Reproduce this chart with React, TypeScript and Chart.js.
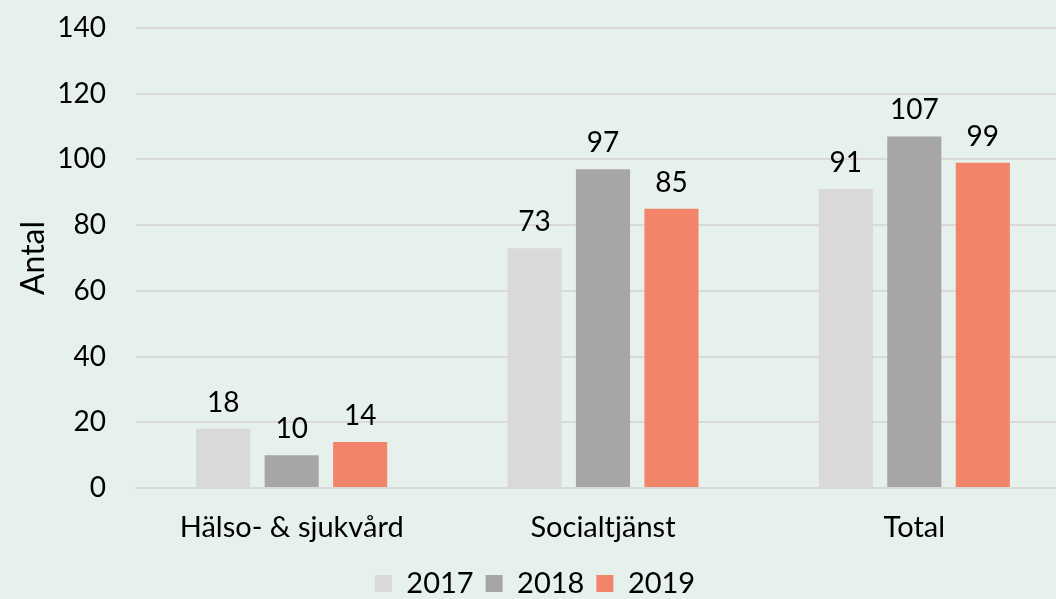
import React, { useEffect, useRef } from "react";
import { Chart, registerables } from "chart.js";

Chart.register(...registerables);

const categories = ["Hälso- & sjukvård", "Socialtjänst", "Total"];
const seriesNames = ["2017", "2018", "2019"];
const values2017 = [18, 73, 91];
const values2018 = [10, 97, 107];
const values2019 = [14, 85, 99];
const colors = ["#D9D9D9", "#A6A6A6", "#F2846A"];
const yTicks = [0, 20, 40, 60, 80, 100, 120, 140];

const FONT = "Lato, 'Open Sans', sans-serif";

const dataLabels = {
  id: "dataLabels",
  afterDatasetsDraw(chart: any) {
    const ctx = chart.ctx;
    ctx.save();
    ctx.font = `28px ${FONT}`;
    ctx.fillStyle = "#000";
    ctx.textAlign = "center";
    ctx.textBaseline = "alphabetic";
    chart.data.datasets.forEach((ds: any, i: number) => {
      const meta = chart.getDatasetMeta(i);
      meta.data.forEach((bar: any, j: number) => {
        ctx.fillText(String(ds.data[j]), bar.x, bar.y - 17);
      });
    });
    ctx.restore();
  },
};

export default function App() {
  const ref = useRef<HTMLCanvasElement>(null);
  useEffect(() => {
    const chart = new Chart(ref.current!, {
      type: "bar",
      data: {
        labels: categories,
        datasets: [values2017, values2018, values2019].map((d, i) => ({
          label: seriesNames[i],
          data: d,
          backgroundColor: colors[i],
          categoryPercentage: 0.66,
          barPercentage: 0.79,
        })),
      },
      options: {
        responsive: false,
        animation: false,
        layout: { padding: { top: 28, left: 0, right: 0, bottom: 0 } },
        plugins: {
          legend: {
            position: "bottom",
            maxHeight: 42,
            labels: {
              font: { family: FONT, size: 29 },
              color: "#000",
              boxWidth: 17,
              boxHeight: 17,
              padding: 12,
            },
          },
          tooltip: { enabled: false },
        },
        scales: {
          x: {
            afterFit(axis: any) {
              axis.height = 69;
            },
            grid: { display: false },
            border: { display: true, color: "#D9D9D9", width: 2 },
            ticks: { font: { family: FONT, size: 29 }, color: "#000", padding: 14 },
          },
          y: {
            min: 0,
            max: 140,
            afterBuildTicks(axis: any) {
              axis.ticks = yTicks.map((v) => ({ value: v }));
            },
            afterFit(axis: any) {
              axis.width = 136;
              axis.paddingTop = 0;
              axis.paddingBottom = 0;
            },
            grid: { color: "#D9D9D9", lineWidth: 2, drawTicks: false },
            border: { display: false },
            ticks: { font: { family: FONT, size: 28 }, color: "#000", padding: 30 },
            title: {
              display: true,
              text: "Antal",
              font: { family: FONT, size: 32 },
              color: "#000",
              padding: { top: 14, bottom: 0 },
            },
          },
        },
      },
      plugins: [dataLabels],
    });
    return () => chart.destroy();
  }, []);
  return (
    <div
      style={{
        position: "fixed",
        left: 0,
        top: 0,
        width: 1056,
        height: 599,
        overflow: "hidden",
        background: "#E6F1EB",
      }}
    >
      <canvas ref={ref} width={1070} height={599} style={{ display: "block" }} />
    </div>
  );
}
